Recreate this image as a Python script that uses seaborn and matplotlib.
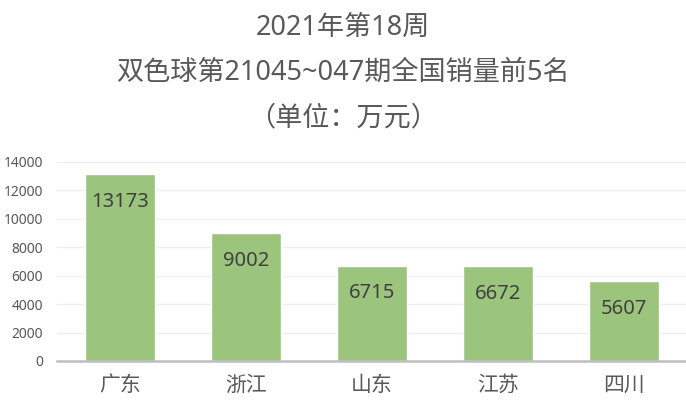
import matplotlib
matplotlib.use("Agg")
import matplotlib.pyplot as plt
import seaborn as sns
import pandas as pd

# 数据
provinces = ["广东", "浙江", "山东", "江苏", "四川"]
sales = [13173, 9002, 6715, 6672, 5607]
y_ticks = [0, 2000, 4000, 6000, 8000, 10000, 12000, 14000]

title_lines = ["2021年第18周", "双色球第21045~047期全国销量前5名", "（单位：万元）"]

sns.set_style("white")
plt.rcParams['font.family'] = ['Noto Sans', 'Noto Sans CJK SC', 'DejaVu Sans']

df = pd.DataFrame({"province": provinces, "sales": sales})

fig = plt.figure(figsize=(6.86, 4.09), dpi=100)
ax = fig.add_axes([57 / 686, 1 - 361 / 409, 630 / 686, 199 / 409])

sns.barplot(data=df, x="province", y="sales", color="#9BC47D", saturation=1,
            width=0.556, ax=ax)

# 柱内数值标签
for i, v in enumerate(sales):
    ax.annotate(str(v), (i, v), xytext=(0, -20), textcoords="offset points",
                ha="center", va="center", fontsize=14.5, color="#404040")

ax.set_ylim(0, 14000)
ax.set_yticks(y_ticks)
ax.set_yticklabels([str(t) for t in y_ticks])
ax.set_xlabel("")
ax.set_ylabel("")
ax.grid(axis="y", color="#EEEEEE", linewidth=1)
ax.set_axisbelow(True)
for s in ["top", "right", "left"]:
    ax.spines[s].set_visible(False)
ax.spines["bottom"].set_color("#BFBFBF")
ax.spines["bottom"].set_linewidth(1.8)
ax.tick_params(axis="y", labelsize=10, colors="#595959", length=0, pad=10)
ax.tick_params(axis="x", labelsize=15, colors="#595959", length=0, pad=10)

for txt, y in zip(title_lines, [28, 73, 118]):
    fig.text(0.5, 1 - y / 409, txt, ha="center", va="center",
             fontsize=19.5, color="#595959")

fig.savefig("out.png", dpi=100)
